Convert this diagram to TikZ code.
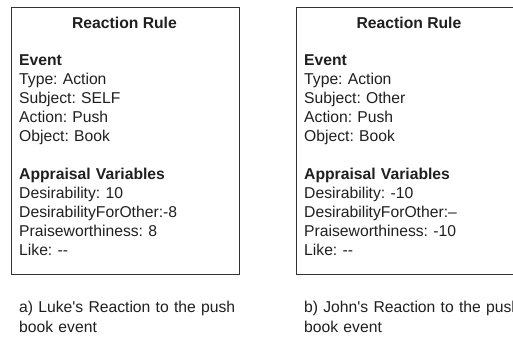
\documentclass[tikz,border=0pt]{standalone}
\usepackage{fontspec}
\setmainfont{Liberation Sans}
\usetikzlibrary{positioning}
\frenchspacing

\begin{document}
\begin{tikzpicture}[x=1pt,y=-1pt,
  rulebox/.style={draw=black!80,line width=0.9pt,anchor=north west,inner sep=0pt,minimum width=228pt,minimum height=267pt},
  ruletext/.style={anchor=base west,inner sep=0pt,text width=200pt,align=left,text=black!88,font=\fontsize{15.7}{19}\selectfont\frenchspacing},
  ruletitle/.style={anchor=base,inner sep=0pt,text=black!88,font=\fontsize{15.7}{19}\selectfont\bfseries},
  caption/.style={ruletext,text width=240pt}]
\useasboundingbox (0,0) rectangle (513,337);
\clip (0,0) rectangle (513,337);
% a) Luke
\node[rulebox] (boxL) at (11,7) {};
\node[ruletitle] (titleL) at (124.5,28.7) {Reaction Rule};
\node[ruletext] (textL) at (19,65.7) {{\bfseries Event}\\
Type: Action\\
Subject: SELF\\
Action: Push\\
Object: Book\\[19pt]
{\bfseries Appraisal Variables}\\
Desirability: 10\\
DesirabilityForOther:-8\\
Praiseworthiness: 8\\
Like: -{}-};
\node[caption] (capL) at (19,312.7) {a) Luke\textquotesingle s Reaction to the push\\[1pt]
book event};
% b) John
\node[rulebox] (boxR) at (296,7) {};
\node[ruletitle] (titleR) at (409,28.7) {Reaction Rule};
\node[ruletext] (textR) at (304,65.7) {{\bfseries Event}\\
Type: Action\\
Subject: Other\\
Action: Push\\
Object: Book\\[19pt]
{\bfseries Appraisal Variables}\\
Desirability: -10\\
DesirabilityForOther:--\\
Praiseworthiness: -10\\
Like: -{}-};
\node[caption] (capR) at (304,312.7) {b) John\textquotesingle s Reaction to the push\\[1pt]
book event};
\end{tikzpicture}
\end{document}
